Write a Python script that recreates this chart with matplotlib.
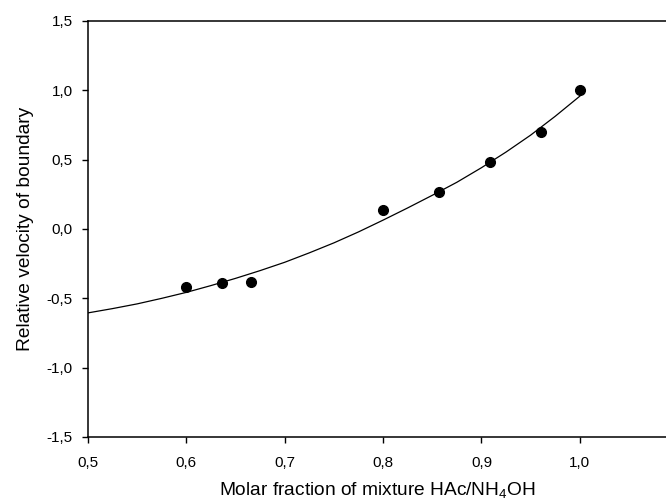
import matplotlib
matplotlib.use("Agg")
import matplotlib.pyplot as plt

plt.rcParams['font.family'] = ['Liberation Sans', 'DejaVu Sans']
plt.rcParams['mathtext.fontset'] = 'custom'
plt.rcParams['mathtext.rm'] = 'Liberation Sans'
plt.rcParams['mathtext.it'] = 'Liberation Sans'

# measured points
x_data = [0.600, 0.636, 0.666, 0.800, 0.857, 0.909, 0.961, 1.000]
y_data = [-0.42, -0.387, -0.38, 0.135, 0.268, 0.485, 0.697, 1.005]

# fitted curve
x_fit = [0.50, 0.525, 0.55, 0.575, 0.60, 0.625, 0.65, 0.675, 0.70, 0.725, 0.75, 0.775, 0.80, 0.825, 0.85, 0.875, 0.90, 0.925, 0.95, 0.975, 1.00]
y_fit = [-0.605, -0.574, -0.540, -0.500, -0.457, -0.408, -0.356, -0.300, -0.240, -0.172, -0.100, -0.021, 0.064, 0.152, 0.243, 0.337, 0.442, 0.555, 0.677, 0.813, 0.958]

x_ticks = [0.5, 0.6, 0.7, 0.8, 0.9, 1.0]
x_tick_labels = ['0,5', '0,6', '0,7', '0,8', '0,9', '1,0']
y_ticks = [-1.5, -1.0, -0.5, 0.0, 0.5, 1.0, 1.5]
y_tick_labels = ['-1,5', '-1,0', '-0,5', '0,0', '0,5', '1,0', '1,5']

fig = plt.figure(figsize=(6.66, 5.0), dpi=100)
ax = fig.add_axes([0.1321, 0.126, 0.8679, 0.832])

ax.plot(x_fit, y_fit, color='black', linewidth=0.9, zorder=2)
ax.plot(x_data, y_data, 'o', color='black', markersize=7, zorder=3)

ax.set_xlim(0.5, 1.0876)
ax.set_ylim(-1.5, 1.5)
ax.set_xticks(x_ticks)
ax.set_xticklabels(x_tick_labels)
ax.set_yticks(y_ticks)
ax.set_yticklabels(y_tick_labels)

ax.spines['right'].set_visible(False)
for s in ['left', 'bottom', 'top']:
    ax.spines[s].set_linewidth(1.1)
ax.tick_params(axis='both', direction='out', length=4, width=1.0, labelsize=11)
ax.tick_params(axis='x', pad=10)
ax.tick_params(axis='y', pad=7)
ax.tick_params(top=False, right=False)

ax.set_xlabel('Molar fraction of mixture HAc/NH$_4$OH', fontsize=13.8, labelpad=7)
ax.set_ylabel('Relative velocity of boundary', fontsize=13.8, labelpad=9)

fig.savefig('out.png', dpi=100)
